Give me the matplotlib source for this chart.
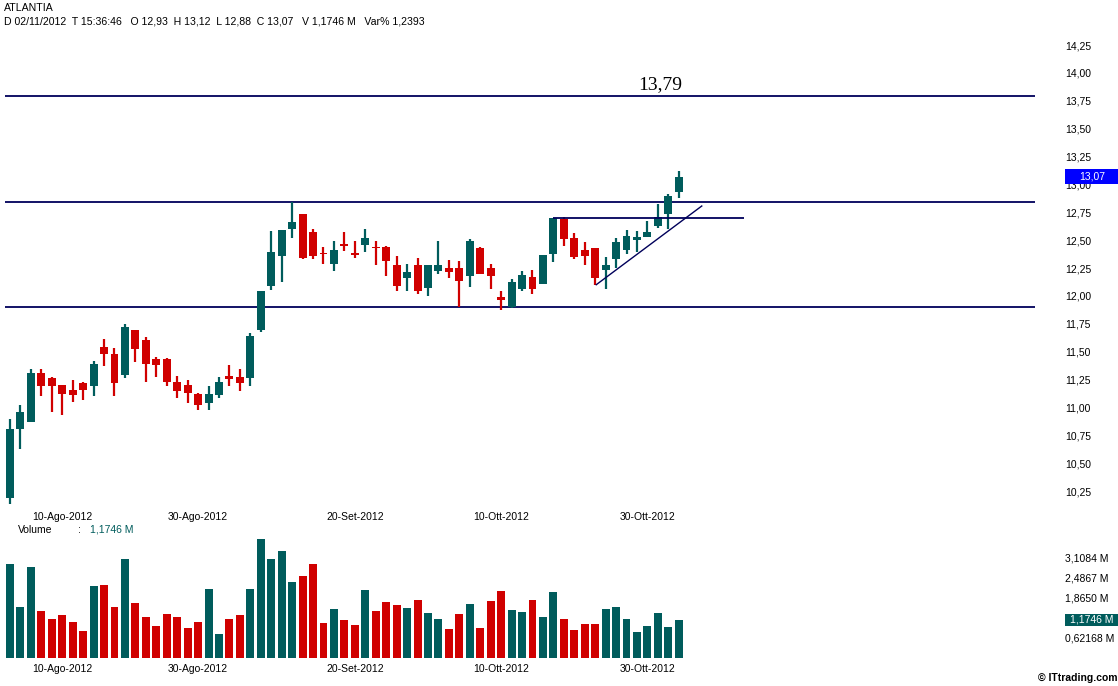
import matplotlib
matplotlib.use("Agg")
import matplotlib.pyplot as plt
from matplotlib.patches import Rectangle
import numpy as np

# ---------------- data ----------------
opens = [10.19, 10.81, 10.87, 11.31, 11.26, 11.20, 11.16, 11.22, 11.19, 11.54,
         11.48, 11.29, 11.69, 11.60, 11.43, 11.43, 11.23, 11.20, 11.12, 11.04,
         11.11, 11.28, 11.27, 11.26, 11.69, 12.09, 12.36, 12.60, 12.73, 12.57,
         12.385, 12.29, 12.46, 12.38, 12.46, 12.44, 12.44, 12.28, 12.16, 12.28,
         12.07, 12.22, 12.25, 12.25, 12.18, 12.43, 12.25, 11.99, 11.90, 12.06,
         12.17, 12.11, 12.38, 12.69, 12.52, 12.41, 12.43, 12.23, 12.33, 12.41,
         12.50, 12.53, 12.63, 12.73, 12.93]
highs = [10.90, 11.02, 11.34, 11.34, 11.27, 11.20, 11.25, 11.23, 11.42, 11.61,
         11.53, 11.75, 11.69, 11.63, 11.45, 11.44, 11.28, 11.25, 11.13, 11.19,
         11.27, 11.38, 11.34, 11.67, 12.04, 12.58, 12.59, 12.84, 12.73, 12.60,
         12.435, 12.49, 12.575, 12.49, 12.60, 12.49, 12.45, 12.36, 12.29, 12.34,
         12.28, 12.49, 12.32, 12.31, 12.51, 12.44, 12.29, 12.04, 12.15, 12.22,
         12.23, 12.37, 12.70, 12.71, 12.56, 12.48, 12.43, 12.35, 12.52, 12.59,
         12.58, 12.67, 12.82, 12.91, 13.12]
lows = [10.13, 10.63, 10.87, 11.10, 10.96, 10.93, 11.05, 11.07, 11.10, 11.37,
        11.10, 11.26, 11.41, 11.23, 11.27, 11.19, 11.08, 11.04, 10.98, 10.98,
        11.08, 11.19, 11.15, 11.19, 11.68, 12.05, 12.12, 12.52, 12.33, 12.33,
        12.29, 12.22, 12.40, 12.34, 12.39, 12.28, 12.18, 12.04, 12.04, 12.02,
        12.00, 12.20, 12.16, 11.90, 12.08, 12.20, 12.06, 11.87, 11.89, 12.04,
        12.02, 12.11, 12.30, 12.45, 12.33, 12.28, 12.10, 12.06, 12.25, 12.38,
        12.39, 12.53, 12.61, 12.60, 12.88]
closes = [10.81, 10.96, 11.31, 11.19, 11.19, 11.12, 11.11, 11.16, 11.39, 11.48,
          11.22, 11.72, 11.52, 11.39, 11.38, 11.23, 11.15, 11.13, 11.02, 11.12,
          11.23, 11.255, 11.22, 11.64, 12.04, 12.39, 12.59, 12.66, 12.34, 12.36,
          12.375, 12.41, 12.45, 12.37, 12.52, 12.43, 12.31, 12.09, 12.21, 12.04,
          12.28, 12.28, 12.21, 12.13, 12.49, 12.20, 12.18, 11.96, 12.12, 12.19,
          12.06, 12.37, 12.70, 12.51, 12.35, 12.36, 12.16, 12.28, 12.48, 12.54,
          12.53, 12.57, 12.71, 12.90, 13.07]
volumes = [2.906, 1.570, 2.813, 1.445, 1.197, 1.321, 1.104, 0.824, 2.223, 2.254,
           1.570, 3.062, 1.694, 1.259, 0.979, 1.352, 1.259, 0.917, 1.104, 2.130,
           0.731, 1.197, 1.321, 2.130, 3.684, 3.062, 3.311, 2.347, 2.533, 2.906,
           1.073, 1.507, 1.166, 1.010, 2.098, 1.445, 1.725, 1.632, 1.539, 1.787,
           1.383, 1.197, 0.886, 1.352, 1.663, 0.917, 1.756, 2.067, 1.476, 1.414,
           1.787, 1.259, 2.036, 1.197, 0.855, 1.042, 1.042, 1.507, 1.570, 1.197,
           0.793, 0.979, 1.383, 0.948, 1.1746]

date_tick_idx = [5, 18, 33, 47, 61]
date_tick_labels = ["10-Ago-2012", "30-Ago-2012", "20-Set-2012", "10-Ott-2012", "30-Ott-2012"]

price_ticks = [10.25, 10.50, 10.75, 11.00, 11.25, 11.50, 11.75, 12.00, 12.25,
               12.50, 12.75, 13.00, 13.25, 13.50, 13.75, 14.00, 14.25]
vol_ticks = [0.62168, 1.8650, 2.4867, 3.1084]
vol_tick_labels = ["0,62168 M", "1,8650 M", "2,4867 M", "3,1084 M"]

resistance_high = 13.79
resistance_mid = 12.84
support_low = 11.90
neck_level = 12.70
neck_range = (52, 70.2)
trend_x = [56.1, 66.2]
trend_y = [12.10, 12.806]

last_price = "13,07"
last_volume = "1,1746 M"

# ---------------- style ----------------
TEAL = "#005C5C"
RED = "#D00000"
NAVY = "#00005A"
FONT = "Liberation Sans"
plt.rcParams["font.family"] = [FONT, "DejaVu Sans"]
FS = 7.5

W, H = 1118, 686
fig = plt.figure(figsize=(W / 100, H / 100), dpi=100)
fig.patch.set_facecolor("white")


def fx(px):
    return px / W


def fy(py):
    return 1 - py / H


n = len(opens)
x = np.arange(n)
xlim = (-0.478, 98.09)

axp = fig.add_axes([fx(5), fy(510), fx(1030), 475 / H])
axv = fig.add_axes([fx(5), fy(657.5), fx(1030), 124.5 / H])

for ax in (axp, axv):
    for s in ax.spines.values():
        s.set_visible(False)
    ax.set_xlim(*xlim)

axp.set_ylim(10.0796, 14.3397)
axv.set_ylim(0, 124.5 * 0.031084)

colors = [TEAL if c >= o else RED for o, c in zip(opens, closes)]
bottoms = [min(o, c) for o, c in zip(opens, closes)]
heights = [max(abs(c - o), 0.012) for o, c in zip(opens, closes)]

axp.vlines(x, lows, highs, colors=colors, linewidth=1.6, zorder=2)
axp.bar(x, heights, bottom=bottoms, width=0.76, color=colors, linewidth=0, zorder=3)

for lvl in (resistance_high, resistance_mid, support_low):
    axp.axhline(lvl, color=NAVY, linewidth=1.3, zorder=1)
axp.hlines(neck_level, neck_range[0], neck_range[1], color=NAVY, linewidth=1.3, zorder=4)
axp.plot(trend_x, trend_y, color=NAVY, linewidth=1.0, zorder=4)

axp.text(62.2, resistance_high + 0.03, "13,79", family="Liberation Serif",
         fontsize=14, ha="center", va="bottom", color="black")

axp.yaxis.tick_right()
axp.set_yticks(price_ticks)
axp.set_yticklabels([f"{t:.2f}".replace(".", ",") for t in price_ticks])
axp.tick_params(axis="y", length=0, pad=21.6, labelsize=FS)
for lab in axp.get_yticklabels():
    lab.set_horizontalalignment("left")
    lab.set_y(lab.get_position()[1])
axp.set_xticks(date_tick_idx)
axp.set_xticklabels(date_tick_labels)
axp.tick_params(axis="x", length=0, pad=1.5, labelsize=FS)

axv.bar(x, volumes, width=0.76, color=colors, linewidth=0)
axv.yaxis.tick_right()
axv.set_yticks(vol_ticks)
axv.set_yticklabels(vol_tick_labels)
axv.tick_params(axis="y", length=0, pad=21.6, labelsize=FS)
for lab in axv.get_yticklabels():
    lab.set_horizontalalignment("left")
axv.set_xticks(date_tick_idx)
axv.set_xticklabels(date_tick_labels)
axv.tick_params(axis="x", length=0, pad=4.5, labelsize=FS)

fig.text(fx(4), fy(8), "ATLANTIA", fontsize=7.6, va="center", ha="left")
fig.text(fx(4), fy(22),
         "D 02/11/2012  T 15:36:46   O 12,93  H 13,12  L 12,88  C 13,07   V 1,1746 M   Var% 1,2393",
         fontsize=7.6, va="center", ha="left")

fig.text(fx(18), fy(530), "Volume", fontsize=FS, va="center", ha="left")
fig.text(fx(78), fy(530), ":", fontsize=FS, va="center", ha="left")
fig.text(fx(90), fy(530), last_volume, fontsize=FS, va="center", ha="left", color=TEAL)

fig.patches.append(Rectangle((fx(1065), fy(184)), fx(53), 15 / H, transform=fig.transFigure,
                             facecolor="#0000FF", edgecolor="none", zorder=5))
fig.text(fx(1092), fy(176.5), last_price, fontsize=FS, color="white", ha="center", va="center", zorder=6)
fig.patches.append(Rectangle((fx(1065), fy(626)), fx(53), 12 / H, transform=fig.transFigure,
                             facecolor=TEAL, edgecolor="none", zorder=5))
fig.text(fx(1092), fy(619.5), last_volume, fontsize=FS, color="white", ha="center", va="center", zorder=6)

fig.text(fx(1117), fy(678), "© ITtrading.com", fontsize=7.5, fontweight="bold",
         ha="right", va="center")

fig.savefig("out.png", dpi=100)
